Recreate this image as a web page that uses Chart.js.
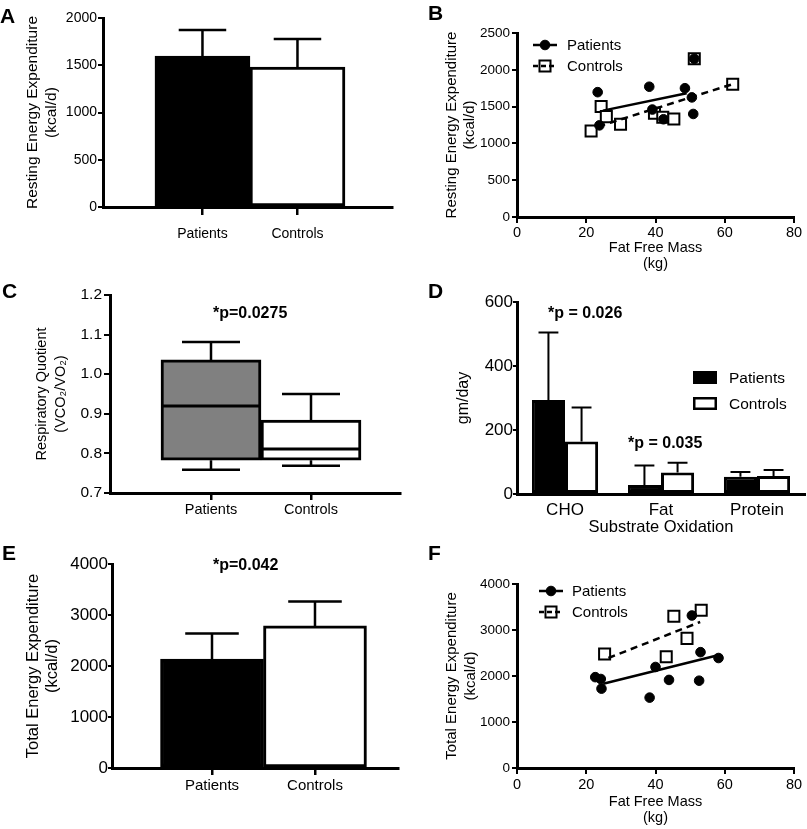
<!DOCTYPE html>
<html lang="en">
<head>
<meta charset="utf-8">
<title>Energy expenditure</title>
<script src="https://cdn.jsdelivr.net/npm/chart.js@4.4.1/dist/chart.umd.min.js"></script>
<style>
  body { margin: 0; background: #fff; font-family: "Liberation Sans", Arial, sans-serif; }
  #fig { position: relative; width: 807px; height: 829px; overflow: hidden; background: #fff; }
  canvas { position: absolute; }
  .letra { position: absolute; z-index: 2; font-weight: bold; font-size: 21px; line-height: 21px; }
  .pval { position: absolute; z-index: 2; font-weight: bold; font-size: 16px; line-height: 16px; white-space: nowrap; }
</style>
</head>
<body>
<div id="fig">
  <div class="letra" style="left:0px;top:5px">A</div>
  <div class="letra" style="left:428px;top:2px">B</div>
  <div class="letra" style="left:2px;top:280px">C</div>
  <div class="letra" style="left:428px;top:280px">D</div>
  <div class="letra" style="left:2px;top:542px">E</div>
  <div class="letra" style="left:428px;top:542px">F</div>
  <div class="pval" style="left:213px;top:305px">*p=0.0275</div>
  <div class="pval" style="left:548px;top:305px">*p = 0.026</div>
  <div class="pval" style="left:628px;top:435px">*p = 0.035</div>
  <div class="pval" style="left:213px;top:557px">*p=0.042</div>
</div>
<script>
// === Dados ===
const grupos = ["Patients", "Controls"];

// A - gasto energetico de repouso (media + DP)
const reeMedia = [1598, 1481];
const reeDP = [275, 297];
const ticksREE = [0, 500, 1000, 1500, 2000];

// B - REE x massa livre de gordura
const reePacX = [23.3, 23.8, 38.2, 39.1, 42.3, 48.5, 50.5, 50.9, 51.2];
const reePacY = [1696, 1245, 1770, 1460, 1328, 1750, 1625, 1400, 2150];
const reeCtrlX = [21.4, 24.3, 25.8, 29.9, 39.7, 42.1, 45.3, 51.2, 62.3];
const reeCtrlY = [1168, 1500, 1364, 1259, 1409, 1355, 1332, 2150, 1805];
const reeRetaPacX = [24.8, 49.0], reeRetaPacY = [1445, 1682];
const reeRetaCtrlX = [23.5, 62.3], reeRetaCtrlY = [1230, 1805];
const ticksREE2 = [0, 500, 1000, 1500, 2000, 2500];
const ticksMassa = [0, 20, 40, 60, 80];

// C - quociente respiratorio (box plot)
const rqMin = [0.759, 0.769];
const rqQ1 = [0.783, 0.783];
const rqMediana = [0.920, 0.811];
const rqQ3 = [1.036, 0.884];
const rqMax = [1.081, 0.950];
const ticksRQ = [0.7, 0.8, 0.9, 1.0, 1.1, 1.2];

// D - oxidacao de substratos
const substratos = ["CHO", "Fat", "Protein"];
const oxPac = [294, 28, 54];
const oxPacDP = [211, 61, 15];
const oxCtrl = [164, 67, 56];
const oxCtrlDP = [106, 31, 19];
const ticksOx = [0, 200, 400, 600];

// E - gasto energetico total
const teeMedia = [2134, 2786];
const teeDP = [502, 477];
const ticksTEE = [0, 1000, 2000, 3000, 4000];

// F - TEE x massa livre de gordura
const teePacX = [22.6, 24.2, 24.4, 38.3, 40.0, 43.9, 50.5, 52.6, 53.0, 58.2];
const teePacY = [1975, 1935, 1725, 1530, 2196, 1915, 3315, 1898, 2518, 2391];
const teeCtrlX = [25.3, 43.1, 45.3, 49.1, 53.2];
const teeCtrlY = [2478, 2420, 3297, 2818, 3427];
const teeRetaPacX = [24.9, 58.6], teeRetaPacY = [1833, 2463];
const teeRetaCtrlX = [26.4, 52.9], teeRetaCtrlY = [2391, 3174];

// === Config geral ===
const FONTE = '"Liberation Sans", Arial, sans-serif';
Chart.defaults.font.family = FONTE;
Chart.defaults.color = "#000";
Chart.defaults.animation = false;
Chart.defaults.responsive = false;
Chart.defaults.maintainAspectRatio = false;
Chart.defaults.plugins.legend.display = false;
Chart.defaults.plugins.tooltip.enabled = false;

const fig = document.getElementById("fig");
function criarCanvas(x, y, w, h) {
  const c = document.createElement("canvas");
  c.width = w; c.height = h;
  c.style.left = x + "px"; c.style.top = y + "px";
  c.style.width = w + "px"; c.style.height = h + "px";
  fig.appendChild(c);
  return c;
}

function pontos(xs, ys) {
  return xs.map((x, i) => ({ x, y: ys[i] }));
}

// === Eixos ===
function eixoY(c) {
  return {
    type: "linear", beginAtZero: false,
    min: c.ticks[0], max: c.ticks[c.ticks.length - 1],
    afterBuildTicks: s => { s.ticks = c.ticks.map(v => ({ value: v })); },
    afterFit: s => { s.width = c.largura; },
    ticks: { font: { size: c.fonte }, padding: c.pad, callback: c.formato || (v => String(v)) },
    grid: { drawOnChartArea: false, offset: false, tickLength: c.tl, color: "#000", lineWidth: 2 },
    border: { color: "#000", width: 3 },
    title: { display: true, text: c.titulo, font: { size: c.fonteTit, lineHeight: c.lh }, padding: { top: c.padTit, bottom: 0 } }
  };
}

function eixoXGrupos(c) {
  return {
    type: "linear", offset: false, min: c.min, max: c.max,
    afterBuildTicks: s => { s.ticks = grupos.map((g, i) => ({ value: i + 1 })); },
    afterFit: s => { s.height = c.altura; },
    ticks: { font: { size: c.fonte }, padding: c.pad, maxRotation: 0, autoSkip: false, callback: v => grupos[v - 1] },
    grid: { drawOnChartArea: false, offset: false, tickLength: c.tl, color: "#000", lineWidth: 2.5 },
    border: { color: "#000", width: 3 }
  };
}

function eixoXNum(c) {
  return {
    type: "linear", min: c.ticks[0], max: c.ticks[c.ticks.length - 1],
    afterBuildTicks: s => { s.ticks = c.ticks.map(v => ({ value: v })); },
    afterFit: s => { s.height = c.altura; },
    ticks: { font: { size: c.fonte }, padding: c.pad, maxRotation: 0, autoSkip: false },
    grid: { drawOnChartArea: false, tickLength: c.tl, color: "#000", lineWidth: 2 },
    border: { color: "#000", width: 3 },
    title: { display: true, text: c.titulo, font: { size: c.fonteTit, lineHeight: c.lh }, padding: { top: 0, bottom: 0 } }
  };
}

// === Plugins ===
const barrasErro = {
  id: "barrasErro",
  afterDatasetsDraw(chart, args, o) {
    if (!o.erros) return;
    const ctx = chart.ctx, y = chart.scales.y;
    ctx.save();
    ctx.strokeStyle = "#000";
    ctx.lineWidth = o.largura;
    o.erros.forEach((erros, d) => {
      const dados = chart.data.datasets[d].data;
      chart.getDatasetMeta(d).data.forEach((bar, i) => {
        const v = typeof dados[i] === "object" ? dados[i].y : dados[i];
        const topo = y.getPixelForValue(v + erros[i]);
        const meia = bar.width * o.tampa / 2;
        ctx.beginPath();
        ctx.moveTo(bar.x, bar.y);
        ctx.lineTo(bar.x, topo);
        ctx.moveTo(bar.x - meia, topo);
        ctx.lineTo(bar.x + meia, topo);
        ctx.stroke();
      });
    });
    ctx.restore();
  }
};

const caixaBigodes = {
  id: "caixaBigodes",
  afterDatasetsDraw(chart, args, o) {
    const ctx = chart.ctx, y = chart.scales.y;
    ctx.save();
    ctx.strokeStyle = "#000";
    chart.getDatasetMeta(0).data.forEach((cx, i) => {
      const meia = cx.width / 2, tampa = cx.width * o.tampa / 2;
      const ym = y.getPixelForValue(rqMediana[i]);
      ctx.lineWidth = 3;
      ctx.beginPath();
      ctx.moveTo(cx.x - meia + 1, ym); ctx.lineTo(cx.x + meia - 1, ym);
      ctx.stroke();
      ctx.lineWidth = 2.5;
      const yq3 = y.getPixelForValue(rqQ3[i]), yMax = y.getPixelForValue(rqMax[i]);
      const yq1 = y.getPixelForValue(rqQ1[i]), yMin = y.getPixelForValue(rqMin[i]);
      ctx.beginPath();
      ctx.moveTo(cx.x, yq3); ctx.lineTo(cx.x, yMax);
      ctx.moveTo(cx.x - tampa, yMax); ctx.lineTo(cx.x + tampa, yMax);
      ctx.moveTo(cx.x, yq1); ctx.lineTo(cx.x, yMin);
      ctx.moveTo(cx.x - tampa, yMin); ctx.lineTo(cx.x + tampa, yMin);
      ctx.stroke();
    });
    ctx.restore();
  }
};

const legendaLinhas = {
  id: "legendaLinhas",
  afterDraw(chart, args, o) {
    const ctx = chart.ctx, a = chart.chartArea;
    [1, 2].forEach((d, k) => {
      const ds = chart.data.datasets[d];
      const cx = a.left + o.dx, cy = a.top + o.dy + k * o.passo;
      ctx.save();
      ctx.fillStyle = ds.backgroundColor;
      ctx.strokeStyle = "#000";
      ctx.lineWidth = ds.borderWidth;
      ctx.beginPath();
      if (ds.pointStyle === "rect") {
        const l = ds.pointRadius * Math.SQRT1_2;
        ctx.rect(cx - l, cy - l, 2 * l, 2 * l);
      } else {
        ctx.arc(cx, cy, ds.pointRadius, 0, Math.PI * 2);
      }
      ctx.fill();
      ctx.stroke();
      ctx.lineWidth = 2.5;
      ctx.setLineDash(k ? [5, 3] : []);
      ctx.beginPath();
      ctx.moveTo(cx - 12, cy); ctx.lineTo(cx + 12, cy);
      ctx.stroke();
      ctx.setLineDash([]);
      ctx.fillStyle = "#000";
      ctx.font = o.fonte + "px " + FONTE;
      ctx.textBaseline = "middle";
      ctx.fillText(ds.label, a.left + o.tx, cy + 1);
      ctx.restore();
    });
  }
};

const legendaCaixas = {
  id: "legendaCaixas",
  afterDraw(chart, args, o) {
    const ctx = chart.ctx, a = chart.chartArea;
    chart.data.datasets.forEach((ds, k) => {
      const x = a.left + o.dx, y = a.top + o.dy + k * o.passo;
      ctx.save();
      ctx.fillStyle = ds.backgroundColor;
      ctx.fillRect(x, y, o.larg, o.alt);
      ctx.strokeStyle = "#000";
      ctx.lineWidth = 2.5;
      ctx.strokeRect(x + 1.25, y + 1.25, o.larg - 2.5, o.alt - 2.5);
      ctx.fillStyle = "#000";
      ctx.font = o.fonte + "px " + FONTE;
      ctx.textBaseline = "middle";
      ctx.fillText(ds.label, x + o.tx, y + o.alt / 2 + 1);
      ctx.restore();
    });
  }
};

// estilos dispersao
const estiloPac = { pointStyle: "circle", pointRadius: 4.8, backgroundColor: "#000", borderColor: "#000", borderWidth: 1 };
const estiloCtrl = { pointStyle: "rect", pointRadius: 7.8, backgroundColor: "#fff", borderColor: "#000", borderWidth: 2 };
const estiloReta = { showLine: true, pointRadius: 0, borderColor: "#000", borderWidth: 2.5, fill: false };

// === A ===
new Chart(criarCanvas(0, 8, 404, 244), {
  type: "bar",
  data: { datasets: [{
    data: pontos([1, 2], reeMedia),
    backgroundColor: ["#000", "#fff"], borderColor: "#000", borderWidth: 3, borderSkipped: false,
    barPercentage: 1, categoryPercentage: 1
  }] },
  options: {
    layout: { padding: { top: 10, right: 12, left: 0, bottom: 0 } },
    scales: {
      x: eixoXGrupos({ min: -0.047, max: 2.995, altura: 45, fonte: 14, pad: 10.5, tl: 8 }),
      y: eixoY({ ticks: ticksREE, largura: 103, fonte: 14, pad: 1, tl: 5, titulo: ["Resting Energy Expenditure", "(kcal/d)"], fonteTit: 15.5, lh: "19px", padTit: 23.5 })
    },
    plugins: { barrasErro: { erros: [reeDP], tampa: 0.5, largura: 2.5 } }
  },
  plugins: [barrasErro]
});

// === B ===
new Chart(criarCanvas(420, 20, 386, 252), {
  type: "scatter",
  data: { datasets: [
    { data: pontos(reeRetaPacX, reeRetaPacY), ...estiloReta, order: 0 },
    { label: "Patients", data: pontos(reePacX, reePacY), ...estiloPac, order: 1 },
    { label: "Controls", data: pontos(reeCtrlX, reeCtrlY), ...estiloCtrl, order: 2 },
    { data: pontos(reeRetaCtrlX, reeRetaCtrlY), ...estiloReta, borderDash: [7, 5], order: 0 }
  ] },
  options: {
    layout: { padding: { top: 13, right: 12, left: 0, bottom: 0 } },
    scales: {
      x: eixoXNum({ ticks: ticksMassa, altura: 55, fonte: 14.5, pad: 1, tl: 6, titulo: ["Fat Free Mass", "(kg)"], fonteTit: 14.5, lh: "16px" }),
      y: eixoY({ ticks: ticksREE2, largura: 97, fonte: 13.5, pad: 2, tl: 5, titulo: ["Resting Energy Expenditure", "(kcal/d)"], fonteTit: 15, lh: "18px", padTit: 23 })
    },
    plugins: { legendaLinhas: { dx: 28, dy: 12, passo: 21, tx: 50, fonte: 15 } }
  },
  plugins: [legendaLinhas]
});

// === C ===
new Chart(criarCanvas(0, 280, 405, 243), {
  type: "bar",
  data: { datasets: [{
    data: grupos.map((g, i) => ({ x: i + 1, y: [rqQ1[i], rqQ3[i]] })),
    backgroundColor: ["#808080", "#fff"], borderColor: "#000", borderWidth: 3, borderSkipped: false,
    barPercentage: 1, categoryPercentage: 1
  }] },
  options: {
    layout: { padding: { top: 15, right: 5, left: 0, bottom: 0 } },
    scales: {
      x: eixoXGrupos({ min: -0.01, max: 2.89, altura: 30, fonte: 14.5, pad: 1, tl: 7 }),
      y: eixoY({ ticks: ticksRQ, largura: 110, fonte: 15.5, pad: 2, tl: 6, formato: v => v.toFixed(1), titulo: ["Respiratory Quotient", "(VCO\u2082/VO\u2082)"], fonteTit: 14.5, lh: "19px", padTit: 32 })
    },
    plugins: { caixaBigodes: { tampa: 0.58 } }
  },
  plugins: [caixaBigodes]
});

// === D ===
new Chart(criarCanvas(420, 285, 386, 251), {
  type: "bar",
  data: { labels: substratos, datasets: [
    { label: "Patients", data: oxPac, backgroundColor: "#000", borderColor: "#000", borderWidth: 3, borderSkipped: false },
    { label: "Controls", data: oxCtrl, backgroundColor: "#fff", borderColor: "#000", borderWidth: 3, borderSkipped: false }
  ] },
  options: {
    datasets: { bar: { categoryPercentage: 0.69, barPercentage: 1 } },
    layout: { padding: { top: 17, right: 1, left: 0, bottom: 0 } },
    scales: {
      x: {
        afterFit: s => { s.height = 42; },
        grid: { display: false, drawTicks: false },
        border: { color: "#000", width: 3 },
        ticks: { font: { size: 17 }, padding: 6, maxRotation: 0 },
        title: { display: true, text: "Substrate Oxidation", font: { size: 16.5, lineHeight: "18px" }, padding: 0 }
      },
      y: eixoY({ ticks: ticksOx, largura: 97, fonte: 17, pad: 0, tl: 4, titulo: "gm/day", fonteTit: 16, lh: "19px", padTit: 34 })
    },
    plugins: {
      barrasErro: { erros: [oxPacDP, oxCtrlDP], tampa: 0.6, largura: 2 },
      legendaCaixas: { dx: 176, dy: 69, passo: 26, larg: 24, alt: 13, tx: 36, fonte: 15.5 }
    }
  },
  plugins: [barrasErro, legendaCaixas]
});

// === E ===
new Chart(criarCanvas(0, 550, 404, 248), {
  type: "bar",
  data: { datasets: [{
    data: pontos([1, 2], teeMedia),
    backgroundColor: ["#000", "#fff"], borderColor: "#000", borderWidth: 3, borderSkipped: false,
    barPercentage: 1, categoryPercentage: 1
  }] },
  options: {
    layout: { padding: { top: 14, right: 6, left: 0, bottom: 0 } },
    scales: {
      x: eixoXGrupos({ min: 0.029, max: 2.806, altura: 30, fonte: 15, pad: 2, tl: 7 }),
      y: eixoY({ ticks: ticksTEE, largura: 112, fonte: 17, pad: 0, tl: 4, titulo: ["Total Energy Expenditure", "(kcal/d)"], fonteTit: 16.5, lh: "19px", padTit: 24 })
    },
    plugins: { barrasErro: { erros: [teeDP], tampa: 0.52, largura: 2.5 } }
  },
  plugins: [barrasErro]
});

// === F ===
new Chart(criarCanvas(420, 570, 386, 256), {
  type: "scatter",
  data: { datasets: [
    { data: pontos(teeRetaPacX, teeRetaPacY), ...estiloReta, order: 0 },
    { label: "Patients", data: pontos(teePacX, teePacY), ...estiloPac, order: 1 },
    { label: "Controls", data: pontos(teeCtrlX, teeCtrlY), ...estiloCtrl, order: 2 },
    { data: pontos(teeRetaCtrlX, teeRetaCtrlY), ...estiloReta, borderDash: [7, 5], order: 0 }
  ] },
  options: {
    layout: { padding: { top: 14, right: 12, left: 0, bottom: 0 } },
    scales: {
      x: eixoXNum({ ticks: ticksMassa, altura: 58, fonte: 14.5, pad: 2.5, tl: 6, titulo: ["Fat Free Mass", "(kg)"], fonteTit: 14.5, lh: "16px" }),
      y: eixoY({ ticks: ticksTEE, largura: 97, fonte: 13.5, pad: 2, tl: 5, titulo: ["Total Energy Expenditure", "(kcal/d)"], fonteTit: 15, lh: "19px", padTit: 22 })
    },
    plugins: { legendaLinhas: { dx: 34, dy: 7, passo: 21, tx: 55, fonte: 15 } }
  },
  plugins: [legendaLinhas]
});
</script>
</body>
</html>
